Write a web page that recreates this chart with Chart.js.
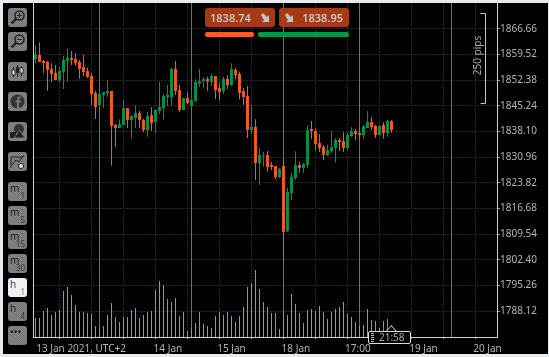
<!DOCTYPE html>
<html>
<head>
<meta charset="utf-8">
<title>XAUUSD H1</title>
<script src="https://cdn.jsdelivr.net/npm/chart.js@4/dist/chart.umd.min.js"></script>
<style>
  html, body { margin: 0; padding: 0; width: 549px; height: 357px; overflow: hidden; background: #e6ebf0; }
  #panel { position: absolute; left: 3px; top: 3px; width: 545px; height: 351px; background: #000; }
  #cv { position: absolute; left: 0; top: 0; }
  .btn { position: absolute; left: 8px; width: 19px; height: 19px; border-radius: 3px;
         background: repeating-conic-gradient(#858585 0 25%, #767676 0 50%) 0 0/2px 2px; color: #1c1c1c;
         font: 10px "Noto Sans", sans-serif; overflow: hidden; }
  .btn svg { position: absolute; left: 0; top: 0; }
  .btn .a { position: absolute; left: 2px; top: -1px; font-size: 10px; }
  .btn .b { position: absolute; right: 2px; bottom: 0; font-size: 8px; color: #333; }
  .btn.on { background: #f0f0f2; color: #444; }
  .btn.on .b { color: #777; }
  .quote { position: absolute; top: 8px; width: 70px; height: 19px; border-radius: 3px; background: rgba(172,60,22,.96);
           color: #c9c9c9; font: 600 11px/19px "Noto Sans", sans-serif; }
  .quote span { position: absolute; top: 0; }
  .quote svg { position: absolute; top: 5px; }
  .lvl { position: absolute; top: 32px; height: 5px; border-radius: 2px; }
  #clock { position: absolute; left: 368px; top: 331px; width: 41px; height: 11px; background: #000; border: 1px solid #ddd; border-radius: 2px;
           color: #aaa; font: 10px/11px "Noto Sans", sans-serif; }
  #clock span { position: absolute; left: 10px; top: 0; }
  #clock i { position: absolute; left: 2px; top: 1px; width: 3px; height: 9px;
             background: repeating-linear-gradient(#bbb 0 1px, #000 1px 2px); }
  #peak { position: absolute; left: 386px; top: 325px; }
</style>
</head>
<body>
<div id="panel"></div>
<canvas id="cv" width="549" height="357"></canvas>
<div id="bar"></div>
<div class="quote" style="left:205px"><span id="bid" style="left:5px"></span>
  <svg style="left:55px" width="10" height="10"><path d="M1 2 L3 0 L7 4 L9 2 L9 9 L2 9 L4 7 Z" fill="#c4c4c4"/></svg></div>
<div class="quote" style="left:279px"><span id="ask" style="right:6px"></span>
  <svg style="left:5px" width="10" height="10"><path d="M1 2 L3 0 L7 4 L9 2 L9 9 L2 9 L4 7 Z" fill="#c4c4c4"/></svg></div>
<div class="lvl" style="left:205px;width:49px;background:#fb5b25"></div>
<div class="lvl" style="left:258px;width:91px;background:#009a47"></div>
<svg id="peak" width="11" height="7"><path d="M0 6.5 L5.5 0.8 L10.5 6.5" fill="#000" stroke="#ddd"/></svg>
<div id="clock"><i></i><span>21:58</span></div>

<script>
// H1 candles
const opens = [1858.30,1859.42,1857.75,1857.47,1855.52,1854.41,1852.46,1854.69,1857.75,1858.58,
  1858.30,1857.47,1856.08,1854.96,1853.57,1848.84,1845.50,1848.28,1848.84,1849.40,
  1839.93,1839.09,1839.93,1844.66,1841.32,1841.88,1843.27,1841.32,1838.54,1842.71,
  1840.77,1843.83,1844.66,1847.73,1847.73,1855.52,1849.67,1844.11,1847.45,1845.22,
  1846.61,1851.53,1852.18,1852.74,1851.90,1853.57,1850.23,1849.40,1852.74,1851.07,
  1855.24,1854.13,1849.40,1848.00,1838.54,1839.37,1829.35,1831.39,1831.58,1828.79,
  1828.52,1825.45,1828.52,1810.42,1821.00,1825.17,1828.79,1827.96,1828.79,1838.82,
  1838.26,1834.92,1833.81,1831.58,1832.69,1833.53,1835.75,1835.48,1833.53,1836.87,
  1838.26,1837.70,1837.15,1839.09,1840.77,1839.65,1837.15,1839.93,1837.70,1841.04];
const highs = [1862.11,1862.94,1858.03,1857.75,1857.10,1856.64,1856.08,1859.14,1861.18,1860.53,
  1859.88,1858.03,1859.42,1855.89,1854.50,1849.40,1848.75,1849.12,1852.27,1849.40,
  1840.21,1841.51,1846.98,1844.66,1842.71,1845.41,1843.83,1841.60,1843.55,1844.85,
  1844.11,1851.99,1848.56,1851.07,1855.80,1857.75,1851.07,1847.45,1849.02,1849.67,
  1852.64,1855.52,1853.20,1853.39,1854.04,1853.57,1851.53,1853.39,1853.85,1857.10,
  1855.89,1854.78,1850.23,1850.79,1845.59,1841.51,1833.43,1832.51,1832.69,1829.63,
  1828.52,1828.05,1830.46,1822.39,1826.66,1832.60,1829.63,1829.26,1839.84,1841.04,
  1839.00,1837.42,1834.27,1834.45,1838.35,1836.22,1836.31,1837.89,1837.89,1839.28,
  1838.82,1839.37,1839.84,1843.73,1842.06,1839.93,1839.93,1840.67,1841.32,1841.32];
const lows = [1857.10,1857.47,1854.31,1849.49,1851.90,1852.46,1851.81,1849.95,1851.99,1856.64,
  1856.36,1852.83,1853.57,1853.01,1845.50,1841.69,1844.85,1844.76,1847.82,1828.61,
  1833.90,1839.00,1839.93,1839.09,1836.22,1839.09,1839.00,1837.98,1836.68,1838.35,
  1837.61,1842.99,1841.51,1845.22,1845.22,1848.28,1843.55,1844.11,1845.78,1845.22,
  1846.43,1850.60,1850.14,1849.49,1850.79,1847.17,1846.70,1848.56,1849.95,1850.79,
  1852.64,1847.08,1845.59,1836.31,1837.42,1824.62,1823.32,1828.33,1826.94,1827.40,
  1824.80,1825.17,1802.35,1810.14,1819.05,1824.62,1826.66,1826.66,1827.96,1836.03,
  1832.97,1832.41,1830.19,1831.30,1832.23,1829.45,1832.69,1832.41,1832.97,1836.68,
  1835.75,1835.75,1836.22,1839.09,1838.54,1836.40,1837.15,1836.13,1836.68,1837.80];
const closes = [1859.42,1857.47,1857.19,1855.24,1854.13,1852.46,1854.96,1858.03,1858.58,1858.03,
  1857.19,1855.52,1854.69,1853.29,1848.56,1844.94,1848.56,1849.12,1849.40,1839.65,
  1839.09,1840.21,1844.66,1841.32,1842.44,1843.27,1841.32,1838.54,1842.44,1840.49,
  1844.11,1844.94,1848.00,1848.28,1855.52,1849.40,1844.11,1847.45,1846.06,1846.89,
  1851.90,1852.18,1852.64,1851.99,1853.57,1849.67,1849.12,1852.74,1851.07,1855.52,
  1853.85,1848.84,1847.73,1838.54,1839.37,1829.35,1831.58,1831.58,1828.24,1828.24,
  1825.45,1827.68,1810.14,1821.28,1825.45,1828.79,1827.96,1829.07,1838.54,1838.26,
  1834.64,1833.53,1831.58,1832.97,1833.81,1835.75,1835.20,1833.53,1837.15,1838.26,
  1837.42,1837.15,1839.65,1840.77,1839.37,1837.15,1839.65,1837.70,1841.04,1838.54];
const volumes = [190,190,260,290,220,250,270,460,500,420,
  320,250,250,240,230,110,80,110,220,340,
  200,150,200,200,270,290,190,220,250,260,
  470,560,520,380,350,390,210,250,60,100,
  140,250,130,110,90,210,250,220,250,210,
  150,210,300,500,540,670,480,350,300,240,
  240,80,260,220,430,330,240,140,270,280,
  260,310,250,180,250,280,300,350,230,200,
  150,110,120,280,170,160,90,160,180,120];
const priceTicks = [1866.66,1859.52,1852.38,1845.24,1838.10,1830.96,1823.82,1816.68,1809.54,1802.40,1795.26,1788.12];
const gridBars = [6,14,22,30,38,46,54,62,70,78,86,94,102,110];
const sessionBars = [16,39,62,81,104];
const dateBars = [11.4,33.1,49,65.1,80.6,97,113];
const dateLabels = ['13 Jan 2021, UTC+2','14 Jan','15 Jan','18 Jan','17:00','19 Jan','20 Jan'];
const bidPrice = '1838.74', askPrice = '1838.95';
const rangeTop = 1870.97, rangeBottom = 1845.97;

const upColor = '#00954a', downColor = '#f95a22';
const gridColor = '#27272b';
const axisFont = { family: '"Noto Sans", sans-serif', size: 10 };
const xMin = -0.625, xMax = 115.375;

document.getElementById('bid').textContent = bidPrice;
document.getElementById('ask').textContent = askPrice;

// left toolbar
const icons = [
  '<circle cx="11.5" cy="7.5" r="4.5" fill="none" stroke="#222" stroke-width="1.6"/><path d="M8.3 10.7 L3.5 15.5" stroke="#222" stroke-width="2.4"/><path d="M9 7.5h5M11.5 5v5" stroke="#222"/>',
  '<circle cx="11.5" cy="7.5" r="4.5" fill="none" stroke="#222" stroke-width="1.6"/><path d="M8.3 10.7 L3.5 15.5" stroke="#222" stroke-width="2.4"/><path d="M9 7.5h5" stroke="#222"/>',
  '<path d="M5.5 5v10M9.5 3v12M13.5 4v10" stroke="#222"/><rect x="4" y="8" width="3" height="5" fill="#ddd" stroke="#222" stroke-width=".8"/><rect x="8" y="5" width="3" height="6" fill="#222"/><rect x="12" y="6" width="3" height="5" fill="#ddd" stroke="#222" stroke-width=".8"/>',
  '<circle cx="9.5" cy="9.5" r="7" fill="#333"/><path d="M11 17 V10.5 H13 V8.5 H11 V7 Q11 6 12 6 H13 V4.5 H11.5 Q9 4.5 9 7 V8.5 H7.5 V10.5 H9 V17 Z" fill="#777"/>',
  '<circle cx="11" cy="7" r="5" fill="#333"/><path d="M2 16 L2 10 L8 10 L8 16 Z" fill="#222"/><path d="M6 16 L11.5 8.5 L17 16 Z" fill="#222" stroke="#7e7e7e" stroke-width=".8"/>',
  '<path d="M3 16 V5 H15" fill="none" stroke="#222"/><path d="M4 13 L8 8 L11 10 L16 3" fill="none" stroke="#222"/><circle cx="13" cy="14" r="2.6" fill="#ddd" stroke="#222"/>'
];
const iconTops = [8,32,62,92,122,152];
const tfTops = [182,206,230,254,278,302,326];
const tfText = [['m','1'],['m','5'],['m','15'],['m','30'],['h','1'],['h','4'],['•••','']];
let html = '';
icons.forEach((p, i) => {
  html += '<div class="btn" style="top:' + iconTops[i] + 'px"><svg width="19" height="19">' + p + '</svg></div>';
});
tfText.forEach((t, i) => {
  const on = t[0] === 'h' && t[1] === '1' ? ' on' : '';
  html += '<div class="btn' + on + '" style="top:' + tfTops[i] + 'px"><span class="a">' + t[0] + '</span><span class="b">' + t[1] + '</span></div>';
});
document.getElementById('bar').innerHTML = html;

// session separators and the 250 pips bracket
const overlays = {
  id: 'overlays',
  beforeDatasetsDraw(chart) {
    const { ctx, chartArea, scales } = chart;
    ctx.save();
    ctx.strokeStyle = '#707070';
    ctx.lineWidth = 1;
    sessionBars.forEach(b => {
      const px = scales.x.getPixelForValue(b);
      ctx.beginPath();
      ctx.moveTo(px, chartArea.top);
      ctx.lineTo(px, chartArea.bottom);
      ctx.stroke();
    });
    ctx.restore();
  },
  afterDatasetsDraw(chart) {
    const { ctx, scales } = chart;
    const yTop = Math.round(scales.y.getPixelForValue(rangeTop)) + 0.5;
    const yBot = Math.round(scales.y.getPixelForValue(rangeBottom)) + 0.5;
    ctx.save();
    ctx.strokeStyle = '#c8c8c8';
    ctx.lineWidth = 1;
    ctx.beginPath();
    ctx.moveTo(480.5, yTop);
    ctx.lineTo(485.5, yTop);
    ctx.lineTo(485.5, yBot);
    ctx.lineTo(480.5, yBot);
    ctx.stroke();
    ctx.translate(478, (yTop + yBot) / 2 - 3);
    ctx.rotate(-Math.PI / 2);
    ctx.fillStyle = '#aaa';
    ctx.font = '10px "Noto Sans", sans-serif';
    ctx.textAlign = 'center';
    ctx.textBaseline = 'middle';
    ctx.fillText('250 pips', 0, 0);
    ctx.restore();
  }
};

const barIndex = opens.map((_, i) => i);
const candleColors = opens.map((o, i) => closes[i] >= o ? upColor : downColor);

// margins for labels that hang over the plot ends would shrink it, so drop them
const noMargins = s => { s.paddingLeft = s.paddingRight = s.paddingTop = s.paddingBottom = 0; };

new Chart(document.getElementById('cv').getContext('2d'), {
  type: 'bar',
  data: {
    datasets: [
      {
        label: 'Wick',
        data: barIndex.map(i => ({ x: i, y: [lows[i], highs[i]] })),
        backgroundColor: candleColors,
        maxBarThickness: 1,
        grouped: false,
        yAxisID: 'y'
      },
      {
        label: 'Body',
        data: barIndex.map(i => ({ x: i, y: [opens[i], closes[i]] })),
        backgroundColor: candleColors,
        maxBarThickness: 3,
        minBarLength: 1,
        grouped: false,
        yAxisID: 'y'
      },
      {
        label: 'Volume',
        data: barIndex.map(i => ({ x: i, y: volumes[i] })),
        backgroundColor: '#3ab4e4',
        maxBarThickness: 1,
        grouped: false,
        yAxisID: 'yVol'
      }
    ]
  },
  options: {
    responsive: false,
    animation: false,
    events: [],
    layout: { padding: { left: 33, top: 3, right: 0, bottom: 0 } },
    plugins: { legend: { display: false }, tooltip: { enabled: false } },
    scales: {
      x: {
        type: 'linear',
        position: 'bottom',
        offset: false,
        min: xMin,
        max: xMax,
        afterBuildTicks: s => { s.ticks = gridBars.map(v => ({ value: v })); },
        ticks: { display: false },
        grid: { offset: false, color: gridColor, tickColor: '#999', tickLength: 2, tickBorderDash: [] },
        border: { color: '#d0d0d0', dash: [2, 1] },
        afterFit: s => { s.height = 3; noMargins(s); }
      },
      xDates: {
        type: 'linear',
        position: 'bottom',
        offset: false,
        min: xMin,
        max: xMax,
        afterBuildTicks: s => { s.ticks = dateBars.map(v => ({ value: v })); },
        ticks: {
          color: '#b4b4b4',
          font: axisFont,
          padding: 3,
          maxRotation: 0,
          autoSkip: false,
          callback: v => dateLabels[dateBars.indexOf(v)]
        },
        grid: { display: false, drawTicks: false, offset: false },
        border: { display: false },
        afterFit: s => { s.height = 17; noMargins(s); }
      },
      y: {
        position: 'right',
        min: 1780.91,
        max: 1873.89,
        afterBuildTicks: s => { s.ticks = priceTicks.map(v => ({ value: v })); },
        ticks: {
          color: '#b4b4b4',
          font: axisFont,
          padding: 0,
          autoSkip: false,
          callback: v => v.toFixed(2)
        },
        grid: { color: gridColor, tickColor: '#999', tickLength: 3, tickBorderDash: [] },
        border: { color: '#d0d0d0', dash: [2, 1] },
        afterFit: s => { s.width = 52; noMargins(s); }
      },
      yVol: {
        position: 'left',
        min: 0,
        max: 3340,
        ticks: { display: false },
        grid: { display: false, drawTicks: false },
        border: { color: '#d0d0d0' },
        afterFit: s => { s.width = 0; noMargins(s); }
      }
    }
  },
  plugins: [overlays]
});
</script>
</body>
</html>
